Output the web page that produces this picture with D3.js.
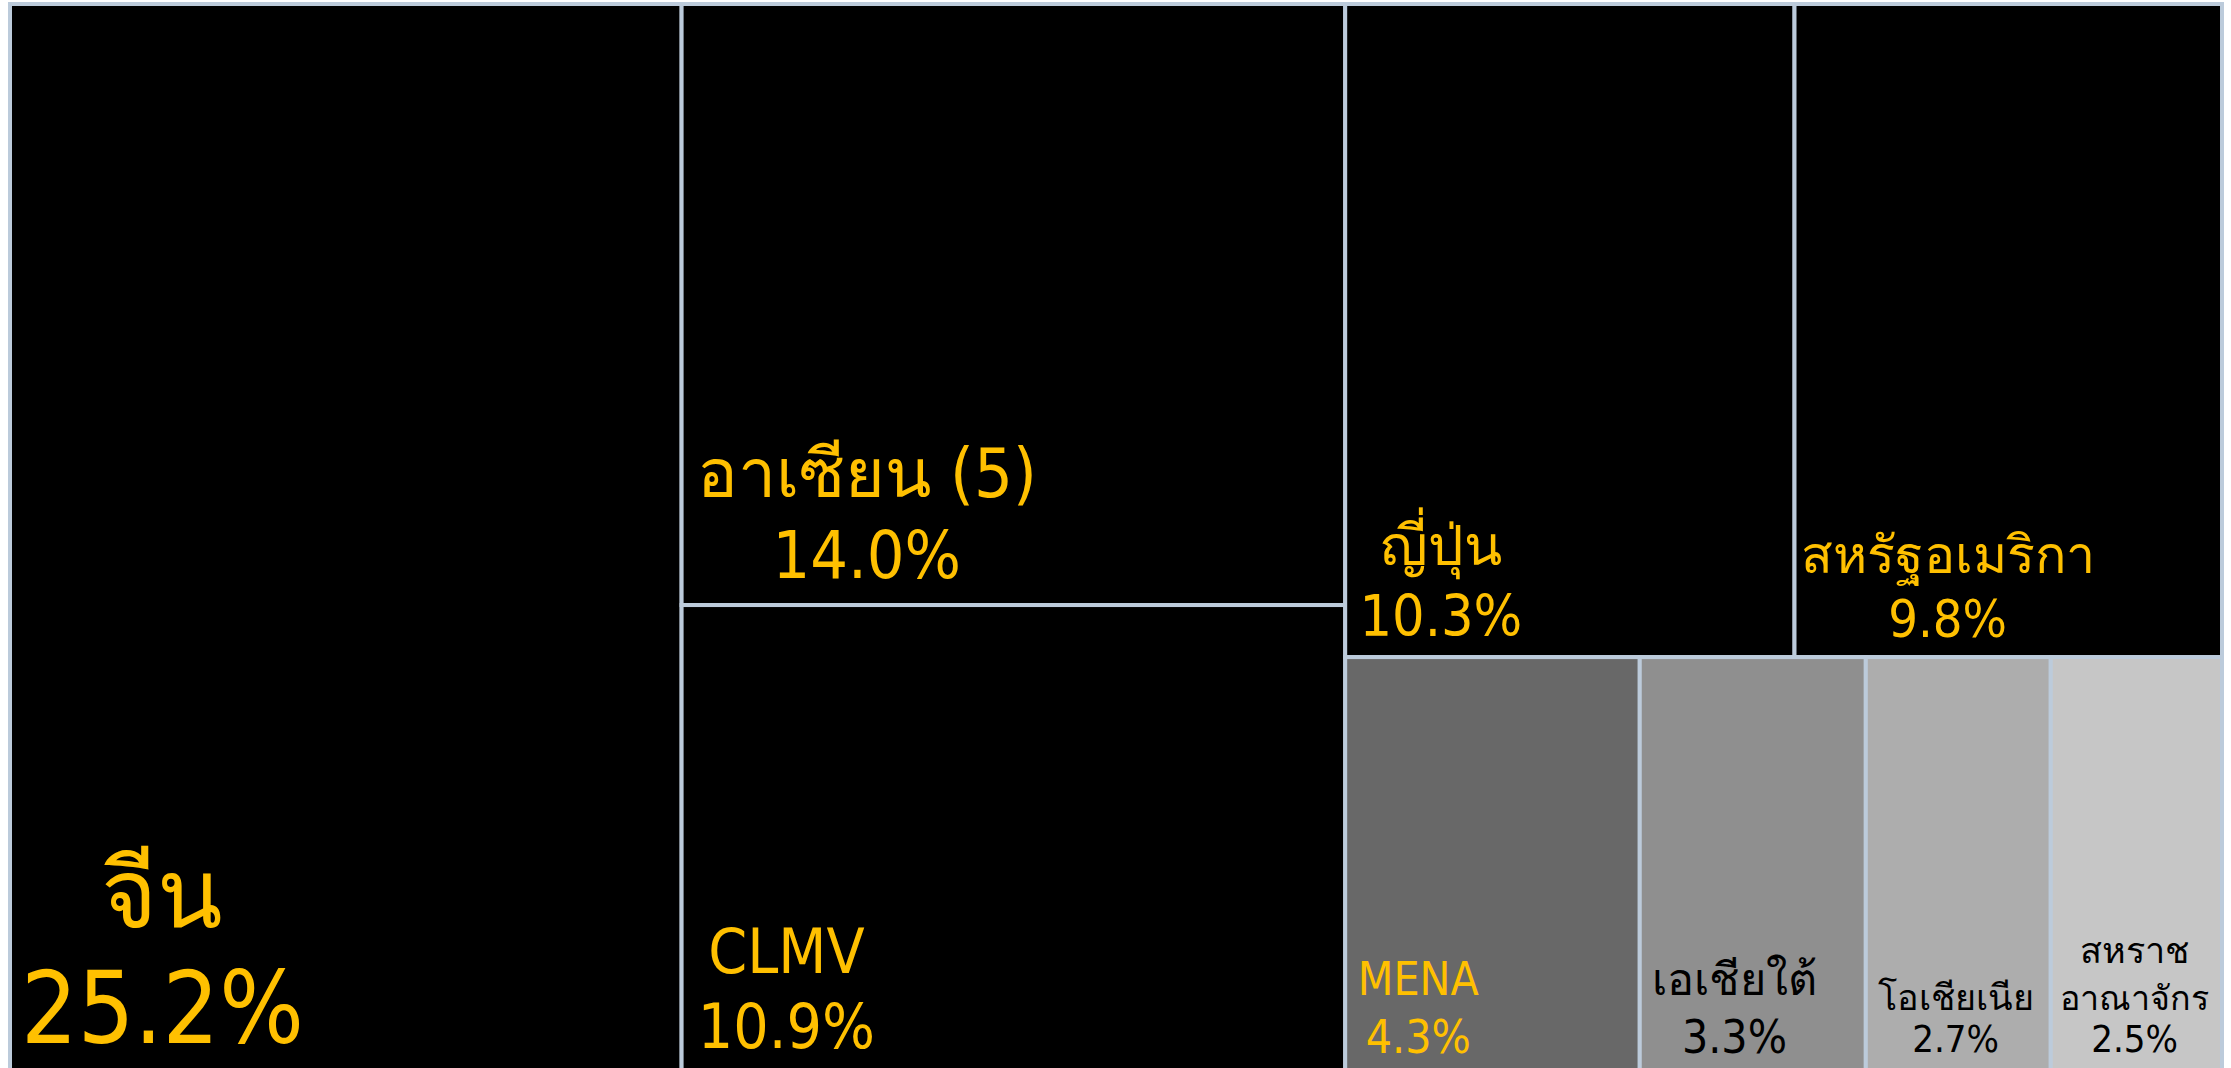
<!DOCTYPE html>
<html>
<head>
<meta charset="utf-8">
<script src="https://cdn.jsdelivr.net/npm/d3@7"></script>
<style>
  html, body { margin: 0; padding: 0; background: #ffffff; overflow: hidden; }
  svg { display: block; }
</style>
</head>
<body>
<svg id="chart" width="2231" height="1068"></svg>
<script>
// ---- data ----
const names   = ["จีน", "อาเซียน (5)", "CLMV", "ญี่ปุ่น", "สหรัฐอเมริกา", "MENA", "เอเชียใต้", "โอเชียเนีย", "สหราชอาณาจักร"];
const values  = [25.2, 14.0, 10.9, 10.3, 9.8, 4.3, 3.3, 2.7, 2.5];
const groups  = ["g1", "g2", "g2", "g3a", "g3a", "g3b", "g3b", "g3b", "g3b"];
const valueLabels = ["25.2%", "14.0%", "10.9%", "10.3%", "9.8%", "4.3%", "3.3%", "2.7%", "2.5%"];

// ---- style / layout ----
const fills     = ["#000000", "#000000", "#000000", "#000000", "#000000", "#686868", "#8f8f8f", "#adadad", "#c6c6c6"];
const textCols  = ["#ffc000", "#ffc000", "#ffc000", "#ffc000", "#ffc000", "#ffc000", "#000000", "#000000", "#000000"];
// label lines: [text, fontSize, baseline offset from cell bottom]
const labelLines = [
  [["จีน", 96, -146], ["25.2%", 99, -30]],
  [["อาเซียน (5)", 68, -108], ["14.0%", 66, -27]],
  [["CLMV", 62, -100], ["10.9%", 62, -25]],
  [["ญี่ปุ่น", 56, -92], ["10.3%", 57, -21]],
  [["สหรัฐอเมริกา", 52, -84], ["9.8%", 52, -20]],
  [["MENA", 46, -78], ["4.3%", 46, -20]],
  [["เอเชียใต้", 45, -78], ["3.3%", 46, -20]],
  [["โอเชียเนีย", 36, -63], ["2.7%", 38, -21]],
  [["สหราช", 36, -110], ["อาณาจักร", 34, -63], ["2.5%", 38, -21]]
];
const labelCx = [0.227, 0.279, 0.158, 0.213, 0.358, 0.248, 0.419, 0.486, 0.49];

const W = 2231, H = 1068;
const margin = { left: 10, top: 4, right: 9 };
const treeW = W - margin.left - margin.right;
const treeH = 1069;

// hierarchy
const leaves = names.map((n, i) => ({ name: n, value: values[i], i }));
const rootData = {
  name: "root",
  children: [
    { name: "g1", children: leaves.filter(d => groups[d.i] === "g1") },
    { name: "g2", children: leaves.filter(d => groups[d.i] === "g2") },
    { name: "g3", children: [
      { name: "g3a", children: leaves.filter(d => groups[d.i] === "g3a") },
      { name: "g3b", children: leaves.filter(d => groups[d.i] === "g3b") }
    ]}
  ]
};

const root = d3.hierarchy(rootData).sum(d => d.children ? 0 : d.value);
d3.treemap()
  .tile(d3.treemapSliceDice)
  .size([treeW, treeH])
  .paddingInner(0)
  .round(false)(root);

const svg = d3.select("#chart");
const g = svg.append("g").attr("transform", `translate(${margin.left},${margin.top})`);

const cells = g.selectAll("g.cell")
  .data(root.leaves())
  .join("g")
  .attr("class", "cell");

cells.append("rect")
  .attr("x", d => d.x0)
  .attr("y", d => d.y0)
  .attr("width", d => d.x1 - d.x0)
  .attr("height", d => d.y1 - d.y0)
  .attr("fill", d => fills[d.data.i])
  .attr("stroke", "#bccbdb")
  .attr("stroke-width", 4);

const fontFam = "Tahoma, 'DejaVu Sans Condensed', 'DejaVu Sans', 'Noto Sans', sans-serif";

cells.each(function(d) {
  const i = d.data.i;
  const cx = d.x0 + labelCx[i] * (d.x1 - d.x0);
  const sel = d3.select(this);
  labelLines[i].forEach(([t, fs, dy]) => {
    sel.append("text")
      .attr("x", cx)
      .attr("y", d.y1 + dy)
      .attr("text-anchor", "middle")
      .attr("font-family", fontFam)
      .attr("font-size", fs)
      .attr("fill", textCols[i])
      .text(t);
  });
});
</script>
</body>
</html>
